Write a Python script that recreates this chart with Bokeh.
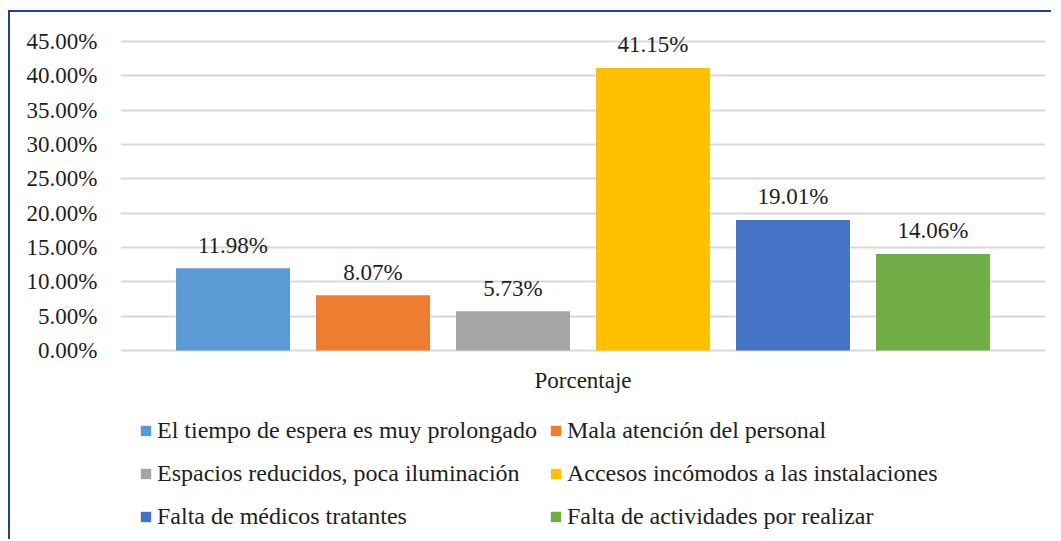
from bokeh.plotting import figure
from bokeh.models import FixedTicker, Legend, LegendItem, FactorRange, Range1d, ColumnDataSource, Label
from bokeh.embed import file_html
from bokeh.resources import INLINE
from bokeh.core.properties import value

categories = [
    "El tiempo de espera es muy prolongado",
    "Mala atención del personal",
    "Espacios reducidos, poca iluminación",
    "Accesos incómodos a las instalaciones",
    "Falta de médicos tratantes",
    "Falta de actividades por realizar",
]
values = [11.98, 8.07, 5.73, 41.15, 19.01, 14.06]
colors = ["#5B9BD5", "#ED7D31", "#A5A5A5", "#FFC000", "#4472C4", "#70AD47"]
y_ticks = [0, 5, 10, 15, 20, 25, 30, 35, 40, 45]
group_label = "Porcentaje"

FONT = "Liberation Serif"
FS = "23px"
TXT = "#1E1E1E"

# the plot frame extends below zero and above 45 so the legend, group label
# and top data label live inside it
p = figure(
    width=1043, height=529,
    x_range=FactorRange(factors=categories, range_padding=0.3036, range_padding_units="absolute"),
    y_range=Range1d(-27.8, 49.22),
    x_axis_location=None,
    output_backend="svg", toolbar_location=None,
    min_border_left=110, min_border_right=8, min_border_top=0, min_border_bottom=0,
)
p.styles = {"border-top": "2px solid #23408A", "border-left": "2px solid #23408A",
            "margin-top": "10px", "margin-left": "8px"}
p.outline_line_color = None
p.background_fill_color = "white"
p.border_fill_color = "white"

src = ColumnDataSource(dict(
    cat=categories, val=values, col=colors,
    lab=[f"{v:.2f}%" for v in values],
))

renderers = []
for i, c in enumerate(categories):
    r = p.vbar(x=[c], top=[values[i]], width=0.814, fill_color=colors[i], line_color=None)
    renderers.append(r)

p.text(x="cat", y="val", text="lab", source=src, text_align="center", text_baseline="alphabetic",
       y_offset=-23, text_font=value(FONT), text_font_size=FS, text_color=TXT)

# y axis
p.yaxis.ticker = FixedTicker(ticks=y_ticks)
p.yaxis.major_label_overrides = {t: f"{t:.2f}%" for t in y_ticks}
p.yaxis.axis_line_color = None
p.yaxis.major_tick_line_color = None
p.yaxis.minor_tick_line_color = None
p.yaxis.major_tick_out = 0
p.yaxis.major_label_standoff = 23
p.yaxis.major_label_text_font = FONT
p.yaxis.major_label_text_font_size = FS
p.yaxis.major_label_text_color = TXT

p.xgrid.grid_line_color = None
p.ygrid.grid_line_color = "#D9D9D9"
p.ygrid.grid_line_width = 2

cat_label = Label(x=3, y=161, y_units="screen", text=group_label, text_align="center",
                  text_baseline="middle", text_font=FONT, text_font_size=FS, text_color=TXT)
p.add_layout(cat_label)

legend = Legend(
    items=[LegendItem(label=c, renderers=[r]) for c, r in zip(categories, renderers)],
    location=(19, 9),
    orientation="horizontal", ncols=2,
    label_text_font=FONT, label_text_font_size="24px", label_text_color=TXT,
    glyph_width=13, glyph_height=13, label_standoff=5,
    label_height=31, spacing=12, padding=0, margin=0,
    border_line_color=None, background_fill_alpha=0,
)
p.add_layout(legend, "center")

open("out.html", "w").write(file_html(p, INLINE))
